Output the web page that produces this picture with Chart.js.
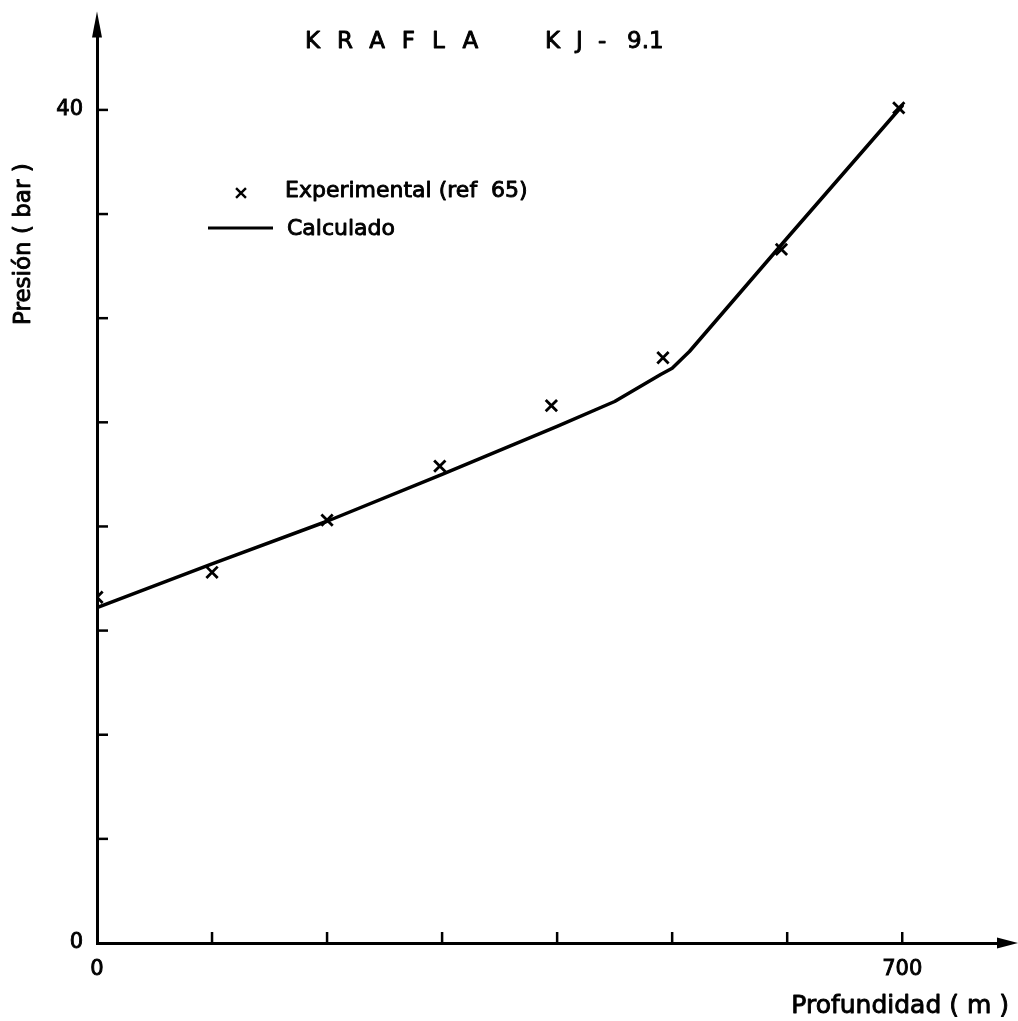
<!DOCTYPE html>
<html>
<head>
<meta charset="utf-8">
<script src="https://cdn.jsdelivr.net/npm/chart.js@4/dist/chart.umd.min.js"></script>
<style>
  html, body { margin: 0; padding: 0; background: #fff; }
  #wrap { width: 1018px; height: 1021px; }
</style>
</head>
<body>
<div id="wrap"><canvas id="c" width="1018" height="1021"></canvas></div>
<script>
// Pozo KRAFLA KJ-9.1: presión contra profundidad
const expDepth    = [0, 100, 200, 298, 395, 492, 595, 697];          // m
const expPressure = [16.6, 17.8, 20.3, 22.9, 25.8, 28.1, 33.3, 40.1]; // bar

const calcDepth    = [0, 100, 200, 300, 400, 450, 490, 500, 515, 600, 700];
const calcPressure = [16.1, 18.2, 20.25, 22.5, 24.8, 26.0, 27.3, 27.6, 28.4, 33.85, 40.2];

const xLabelled = [0, 700];
const yLabelled = [0, 40];

const titleParts = ['KRAFLA', 'KJ-', '9.1'];
const xTitle = 'Profundidad ( m )';
const yTitle = 'Presión ( bar )';

const FONT = '"DejaVu Sans", sans-serif';
const INK = '#000';

const toPoints = (xs, ys) => xs.map((v, i) => ({ x: v, y: ys[i] }));

// texto con trazo para dar el grosor del rotulado
function inkText(ctx, s, x, y) {
  ctx.fillText(s, x, y);
  ctx.strokeText(s, x, y);
}

// Marcas interiores, flechas de ejes, títulos y leyenda
const decor = {
  id: 'decor',
  afterDraw(chart) {
    const { ctx, chartArea: a, scales: { x, y } } = chart;
    ctx.save();
    ctx.strokeStyle = INK;
    ctx.fillStyle = INK;
    ctx.lineCap = 'butt';

    // marcas hacia dentro
    ctx.lineWidth = 2.5;
    x.ticks.forEach(t => {
      if (t.value === 0) return;
      const px = x.getPixelForValue(t.value);
      ctx.beginPath(); ctx.moveTo(px, a.bottom); ctx.lineTo(px, a.bottom - 11); ctx.stroke();
    });
    y.ticks.forEach(t => {
      if (t.value === 0) return;
      const py = y.getPixelForValue(t.value);
      ctx.beginPath(); ctx.moveTo(a.left, py); ctx.lineTo(a.left + 11, py); ctx.stroke();
    });

    // puntas de flecha
    ctx.beginPath();
    ctx.moveTo(a.right + 18, a.bottom);
    ctx.lineTo(a.right - 3, a.bottom - 5.5);
    ctx.lineTo(a.right - 3, a.bottom + 5.5);
    ctx.closePath(); ctx.fill();
    ctx.beginPath();
    ctx.moveTo(a.left, a.top - 15);
    ctx.lineTo(a.left - 5, a.top + 11);
    ctx.lineTo(a.left + 5, a.top + 11);
    ctx.closePath(); ctx.fill();

    ctx.lineJoin = 'round';
    ctx.lineWidth = 0.9;

    // título
    ctx.textBaseline = 'middle';
    ctx.textAlign = 'left';
    ctx.font = `23px ${FONT}`;
    ctx.letterSpacing = '17px';
    inkText(ctx, titleParts[0], 305, 42);
    ctx.letterSpacing = '16px';
    inkText(ctx, titleParts[1], 545, 42);
    ctx.letterSpacing = '0px';
    inkText(ctx, titleParts[2], 627, 42);

    // títulos de ejes
    ctx.font = `25px ${FONT}`;
    ctx.textAlign = 'right';
    inkText(ctx, xTitle, 1009, 1006);
    ctx.save();
    ctx.translate(24, 325);
    ctx.rotate(-Math.PI / 2);
    ctx.textAlign = 'left';
    ctx.font = `23px ${FONT}`;
    inkText(ctx, yTitle, 0, 0);
    ctx.restore();

    // leyenda
    const [dsExp, dsCalc] = chart.data.datasets;
    ctx.font = `22px ${FONT}`;
    ctx.textAlign = 'left';
    inkText(ctx, dsExp.label, 285, 191);
    inkText(ctx, dsCalc.label, 287, 229);
    ctx.lineWidth = 2.4;
    Chart.helpers.drawPoint(ctx, { pointStyle: 'crossRot', radius: 7, rotation: 0, borderWidth: 2.4 }, 241, 193);
    ctx.lineWidth = 3;
    ctx.beginPath(); ctx.moveTo(208, 228); ctx.lineTo(273, 228); ctx.stroke();

    ctx.restore();
  }
};

const tickFont = { family: FONT, size: 21 };

new Chart(document.getElementById('c'), {
  type: 'scatter',
  data: {
    datasets: [
      {
        label: 'Experimental (ref  65)',
        data: toPoints(expDepth, expPressure),
        showLine: false,
        pointStyle: 'crossRot',
        pointRadius: 8,
        pointBorderWidth: 2.8,
        borderColor: INK,
        backgroundColor: INK,
        order: 0
      },
      {
        label: 'Calculado',
        data: toPoints(calcDepth, calcPressure),
        showLine: true,
        tension: 0,
        pointRadius: 0,
        borderWidth: 3.5,
        borderColor: INK,
        borderJoinStyle: 'round',
        borderCapStyle: 'round',
        order: 1
      }
    ]
  },
  options: {
    responsive: false,
    animation: false,
    events: [],
    layout: { padding: { top: 21, right: 18, bottom: 0, left: 0 } },
    plugins: { legend: { display: false }, tooltip: { enabled: false }, title: { display: false } },
    scales: {
      x: {
        type: 'linear',
        min: 0,
        max: 785,
        grid: { display: false, drawTicks: false },
        border: { display: true, color: INK, width: 3 },
        afterBuildTicks: s => { s.ticks = s.ticks.filter(t => t.value % 100 === 0); },
        afterFit: s => { s.height = 78; },
        ticks: {
          stepSize: 100,
          autoSkip: false,
          maxRotation: 0,
          padding: 14,
          color: INK,
          textStrokeColor: INK,
          textStrokeWidth: 0.9,
          font: tickFont,
          callback: v => xLabelled.includes(v) ? String(v) : ''
        }
      },
      y: {
        type: 'linear',
        min: 0,
        max: 44,
        grid: { display: false, drawTicks: false },
        border: { display: true, color: INK, width: 3 },
        afterBuildTicks: s => { s.ticks = s.ticks.filter(t => t.value % 5 === 0); },
        afterFit: s => { s.width = 97; },
        ticks: {
          stepSize: 5,
          autoSkip: false,
          padding: 14,
          color: INK,
          textStrokeColor: INK,
          textStrokeWidth: 0.9,
          font: tickFont,
          callback: v => yLabelled.includes(v) ? String(v) : ''
        }
      }
    }
  },
  plugins: [decor]
});
</script>
</body>
</html>
